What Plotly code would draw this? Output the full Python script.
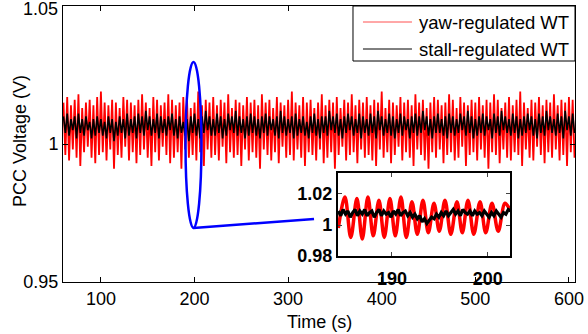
import plotly.graph_objects as go

# ---------------- data ----------------
# main traces: sampled every 2 s from 60 s to 606 s, values as deviation from 1 pu in thousandths
t_start, t_step = 60, 2
yaw_dev = [
    15,-4, 17,-6, 14,-2, 16,-5, 18,-8, 13,-3, 15,-1, 16,-5, 14,-7, 17,-4,
    19,-3, 15,-6, 14,-2, 16,-9, 15,-4, 13,-5, 17,-1, 16,-6, 15,-3, 14,-7,
    16,-4, 18,-2, 15,-5, 13,-8, 17,-3, 16,-6, 14,-1, 15,-4, 18,-7, 16,-5,
    14,-3, 15,-9, 17,-2, 16,-5, 13,-4, 15,-6, 19,-3, 14,-8, 16,-2, 15,-5,
    17,-4, 14,-6, 16,-1, 15,-7, 18,-3, 13,-5, 16,-4, 15,-8, 14,-2, 17,-6,
    15,-3, 16,-5, 14,-9, 18,-2, 15,-4, 16,-6, 13,-3, 17,-7, 15,-1, 14,-5,
    16,-4, 19,-6, 15,-2, 14,-5, 17,-8, 15,-3, 16,-4, 13,-6, 15,-2, 18,-7,
    14,-5, 16,-3, 15,-9, 17,-4, 13,-1, 16,-6, 15,-4, 18,-3, 14,-7, 16,-2,
    15,-5, 17,-4, 14,-6, 16,-8, 15,-2, 19,-5, 13,-3, 16,-7, 15,-4, 14,-1,
    17,-6, 15,-3, 16,-5, 14,-8, 18,-2, 15,-4, 16,-6, 13,-9, 15,-3, 17,-5,
    16,-2, 14,-7, 15,-4, 18,-3, 16,-6, 13,-5, 17,-1, 15,-8, 14,-4, 16,-3,
    15,-6, 17,-2, 14,-5, 16,-9, 15,-3, 18,-4, 16,-7, 13,-2, 15,-5, 17,-6,
    14,-3, 16,-4, 19,-8, 15,-2, 13,-5, 16,-6, 15,-1, 17,-4, 14,-7, 16,-3,
    15,-5, 18,-2, 14,-6, 16,-4, 15,-8, 17,-3, 16,-5,
]
stall_dev = [
    10,4, 11,3, 9,5, 10,2, 11,4, 9,3, 10,5, 8,2, 9,3, 10,4,
    9,3, 8,2, 10,4, 9,1, 8,3, 10,4, 9,2, 11,3, 9,4, 10,2,
    11,4, 10,3, 12,5, 10,3, 9,4, 11,2, 10,4, 9,3, 10,5, 11,3,
    9,2, 10,4, 8,3, 9,1, 10,4, 11,3, 9,2, 10,4, 12,5, 10,3,
    9,3, 11,4, 10,2, 9,3, 11,5, 10,4, 12,3, 10,4, 9,2, 10,3,
    11,4, 10,3, 9,2, 10,4, 11,3, 10,5, 9,3, 10,2, 12,4, 10,3,
    9,4, 10,2, 11,3, 9,4, 10,3, 8,2, 10,4, 11,3, 9,2, 10,4,
    10,3, 12,5, 10,4, 11,3, 9,2, 10,4, 11,5, 10,3, 9,4, 11,2,
    10,4, 9,3, 11,4, 10,2, 12,5, 10,3, 9,4, 11,3, 10,2, 9,4,
    11,3, 10,5, 9,2, 10,4, 11,3, 10,4, 12,5, 10,3, 9,2, 10,4,
    11,4, 9,3, 10,2, 11,4, 10,3, 9,4, 11,5, 10,3, 12,4, 10,2,
    9,3, 10,4, 11,3, 10,5, 9,2, 11,4, 10,3, 12,5, 10,4, 9,3,
    11,4, 10,2, 9,3, 10,4, 11,5, 10,3, 9,2, 11,4, 10,3, 12,5,
    10,4, 9,3, 11,4, 10,2, 12,5, 10,3, 11,4,
]
time_s = [t_start + t_step * i for i in range(len(yaw_dev))]
yaw_v = [1 + d / 1000 for d in yaw_dev]
stall_v = [1 + d / 1000 for d in stall_dev]

# inset (zoom around 184-202 s)
inset_yaw_t = [184.4, 185.09, 185.7, 186.34, 186.9, 187.49, 188.05, 188.64, 189.2, 189.79,
               190.35, 190.94, 191.5, 192.09, 192.65, 193.24, 193.8, 194.39, 194.95, 195.54,
               196.15, 196.79, 197.35, 197.94, 198.55, 199.2, 199.8, 200.45, 201.1, 201.81, 202.3]
inset_yaw_v = [0.998, 1.018, 0.992, 1.017, 0.991, 1.018, 0.993, 1.016, 0.992, 1.017,
               0.993, 1.018, 0.992, 1.015, 0.994, 1.016, 0.995, 1.014, 0.996, 1.016,
               0.994, 1.015, 0.995, 1.016, 0.994, 1.015, 0.995, 1.014, 0.996, 1.014, 1.010]
inset_stall_t0, inset_stall_step = 184.4, 0.25
inset_stall_dev = [9, 6, 10, 7, 9, 5, 8, 10,
                   6, 9, 7, 10, 6, 8, 9, 5,
                   8, 10, 6, 9, 7, 8, 5, 9,
                   7, 10, 6, 8, 9, 6, 8, 5,
                   7, 4, 6, 2, 4, 1, 3, 5,
                   4, 7, 5, 8, 6, 9, 6, 8,
                   10, 7, 9, 6, 10, 8, 7, 9,
                   6, 9, 7, 8, 6, 9, 7, 5,
                   8, 6, 9, 7, 5, 8, 7, 10,
                   9]
inset_stall_t = [inset_stall_t0 + inset_stall_step * i for i in range(len(inset_stall_dev))]
inset_stall_v = [1 + d / 1000 for d in inset_stall_dev]

x_ticks = [100, 200, 300, 400, 500, 600]
y_ticks = [0.95, 1.0, 1.05]
y_ticktext = ["0.95", "1", ""]      # top label "1.05" placed as text below (it sits at the edge)
y_top_label = "1.05"
inset_x_ticks = [190, 200]
inset_y_ticks = [0.98, 1.0, 1.02]
inset_y_ticktext = ["0.98", "1", "1.02"]
series_names = ["yaw-regulated WT", "stall-regulated WT"]
series_colors = ["#ff0000", "#000000"]

FONT = "Liberation Sans, Arial, sans-serif"

fig = go.Figure()
fig.add_trace(go.Scatter(x=time_s, y=yaw_v, mode="lines", name=series_names[0],
                         line=dict(color=series_colors[0], width=1.8)))
fig.add_trace(go.Scatter(x=time_s, y=stall_v, mode="lines", name=series_names[1],
                         line=dict(color=series_colors[1], width=1.6)))
fig.add_trace(go.Scatter(x=inset_yaw_t, y=inset_yaw_v, mode="lines",
                         line=dict(color=series_colors[0], width=3.5, shape="spline"),
                         xaxis="x2", yaxis="y2"))
fig.add_trace(go.Scatter(x=inset_stall_t, y=inset_stall_v, mode="lines",
                         line=dict(color=series_colors[1], width=3.2),
                         xaxis="x2", yaxis="y2"))

axis_common = dict(showline=True, linecolor="black", linewidth=1, mirror="ticks",
                   ticks="inside", ticklen=5, tickcolor="black", showgrid=False,
                   zeroline=False, automargin=False)

fig.update_layout(
    width=588, height=334,
    margin=dict(l=63, r=13, t=6, b=52),
    paper_bgcolor="white", plot_bgcolor="white",
    font=dict(family=FONT, size=18, color="black"),
    showlegend=False,
    hovermode=False,
    xaxis=dict(range=[59.5, 606.5], tickvals=x_ticks, domain=[0, 1], **axis_common),
    yaxis=dict(range=[0.94999, 1.05001], tickvals=y_ticks, ticktext=y_ticktext,
               domain=[0, 1], **axis_common),
    xaxis2=dict(range=[184.36, 202.33], tickvals=inset_x_ticks, anchor="y2",
                domain=[0.537, 0.873], ticklabelstandoff=5,
                tickfont=dict(family=FONT, size=18, color="black", weight="bold"),
                showline=True, linecolor="black", linewidth=2, mirror="ticks",
                ticks="inside", ticklen=4, showgrid=False, zeroline=False),
    yaxis2=dict(range=[0.98, 1.0335], tickvals=inset_y_ticks, ticktext=inset_y_ticktext,
                anchor="x2", domain=[0.094, 0.395],
                tickfont=dict(family=FONT, size=18, color="black", weight="bold"),
                showline=True, linecolor="black", linewidth=2, mirror="ticks",
                ticks="inside", ticklen=4, showgrid=False, zeroline=False),
)

# top y tick label
fig.add_annotation(text=y_top_label, xref="paper", yref="y", x=0, y=y_ticks[-1],
                   xanchor="right", yanchor="middle", xshift=-3, yshift=-3,
                   showarrow=False, font=dict(family=FONT, size=18, color="black"))

# inset grey background
fig.add_shape(type="rect", xref="x2 domain", yref="y2 domain", x0=0, x1=1, y0=0, y1=1,
              fillcolor="#e6e6e6", line=dict(width=0), layer="below")
# blue ellipse around the zoomed region and its connector
fig.add_shape(type="circle", xref="x", yref="y", x0=190.4, x1=207.4, y0=0.9696, y1=1.0297,
              line=dict(color="#0000ff", width=2.5))
fig.add_shape(type="line", xref="x", yref="y", x0=198.9, y0=0.9696, x1=327.7, y1=0.9728,
              line=dict(color="#0000ff", width=2.5))

# legend box (drawn to match the reference proportions)
fig.add_shape(type="rect", xref="paper", yref="paper", x0=0.5664, x1=1.0, y0=0.8007, y1=1.0,
              fillcolor="white", line=dict(color="black", width=1))
legend_rows_y = [0.942, 0.8442]
legend_line_colors = ["#ff5050", "#000000"]
for name, col, yy in zip(series_names, legend_line_colors, legend_rows_y):
    fig.add_shape(type="line", xref="paper", yref="paper", x0=0.5859, x1=0.6816, y0=yy, y1=yy,
                  line=dict(color=col, width=1))
    fig.add_annotation(text=name, xref="paper", yref="paper", x=0.6914, y=yy,
                       xanchor="left", yanchor="middle", showarrow=False,
                       font=dict(family=FONT, size=18.5, color="black"))

# axis titles
fig.add_annotation(text="PCC Voltage (V)", xref="paper", yref="paper", x=-0.084, y=0.511,
                   textangle=-90, showarrow=False, font=dict(family=FONT, size=18),
                   xanchor="center", yanchor="middle")
fig.add_annotation(text="Time (s)", xref="paper", yref="paper", x=0.5, y=-0.145,
                   showarrow=False, font=dict(family=FONT, size=18),
                   xanchor="center", yanchor="middle")

fig.write_html("out.html", config={"displayModeBar": False},
               post_script="document.body.style.margin='0';")
